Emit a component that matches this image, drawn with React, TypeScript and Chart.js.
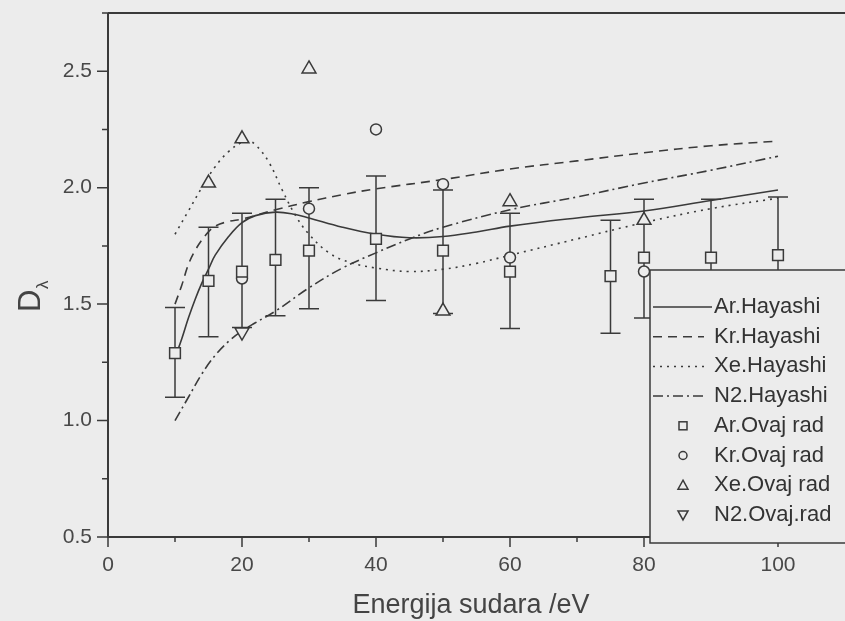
import React, { useEffect, useRef } from 'react';
import { Chart, registerables } from 'chart.js';

Chart.register(...registerables);

// ---------- data ----------
const arHayashiX = [10, 11, 12, 13, 14, 15, 16, 18, 20, 22, 25, 28, 30, 35, 40, 45, 50, 55, 60, 70, 80, 90, 100];
const arHayashiY = [1.27, 1.35, 1.44, 1.52, 1.59, 1.65, 1.71, 1.79, 1.85, 1.88, 1.895, 1.885, 1.87, 1.83, 1.8, 1.785, 1.79, 1.81, 1.835, 1.87, 1.9, 1.945, 1.99];

const krHayashiX = [10, 11, 12, 13, 14, 15, 16, 18, 20, 25, 30, 35, 40, 50, 60, 70, 80, 90, 100];
const krHayashiY = [1.5, 1.58, 1.67, 1.73, 1.775, 1.81, 1.835, 1.855, 1.865, 1.905, 1.94, 1.97, 1.995, 2.035, 2.08, 2.115, 2.15, 2.18, 2.2];

const xeHayashiX = [10, 12, 14, 16, 18, 20, 21, 22, 24, 26, 28, 30, 33, 36, 40, 45, 50, 55, 60, 70, 80, 90, 100];
const xeHayashiY = [1.8, 1.9, 2.0, 2.09, 2.155, 2.195, 2.2, 2.185, 2.11, 1.99, 1.88, 1.8, 1.72, 1.68, 1.655, 1.64, 1.65, 1.675, 1.71, 1.78, 1.85, 1.91, 1.955];

const n2HayashiX = [10, 12, 14, 16, 18, 20, 22, 25, 30, 35, 40, 45, 50, 60, 70, 80, 90, 100];
const n2HayashiY = [1.0, 1.1, 1.2, 1.28, 1.34, 1.385, 1.42, 1.47, 1.57, 1.655, 1.72, 1.78, 1.83, 1.905, 1.96, 2.02, 2.075, 2.135];

const arOvajX = [10, 15, 20, 25, 30, 40, 50, 60, 75, 80, 90, 100];
const arOvajY = [1.29, 1.6, 1.64, 1.69, 1.73, 1.78, 1.73, 1.64, 1.62, 1.7, 1.7, 1.71];
const arErrHigh = [1.485, 1.83, 1.89, 1.95, 2.0, 2.05, 1.99, 1.89, 1.86, 1.95, 1.95, 1.96];
const arErrLow = [1.1, 1.36, 1.4, 1.45, 1.48, 1.515, 1.46, 1.395, 1.375, 1.44, 1.45, 1.46];

const krOvajX = [20, 30, 40, 50, 60, 80];
const krOvajY = [1.61, 1.91, 2.25, 2.015, 1.7, 1.64];

const xeOvajX = [15, 20, 30, 50, 60, 80];
const xeOvajY = [2.02, 2.21, 2.51, 1.47, 1.94, 1.86];

const n2OvajX = [20];
const n2OvajY = [1.38];

const legendLabels = [
  'Ar.Hayashi',
  'Kr.Hayashi',
  'Xe.Hayashi',
  'N2.Hayashi',
  'Ar.Ovaj rad',
  'Kr.Ovaj rad',
  'Xe.Ovaj rad',
  'N2.Ovaj.rad',
];
const xTitle = 'Energija sudara /eV';
const yTitleMain = 'D';
const yTitleSub = 'λ';

// ---------- style ----------
const BG = '#ececec';
const INK = '#3a3a3a';
const TEXT = '#444444';
const FONT = '"Liberation Sans", Arial, sans-serif';
const DASH_KR = [9, 6];
const DASH_XE = [2, 5];
const DASH_N2 = [10, 4, 2, 4];

function pts(xs: number[], ys: number[]) {
  return xs.map((x, i) => ({ x, y: ys[i] }));
}

function zeroPad(s: any) {
  s.paddingTop = 0;
  s.paddingBottom = 0;
  s.paddingLeft = 0;
  s.paddingRight = 0;
}

export default function App() {
  const ref = useRef<HTMLCanvasElement>(null);

  useEffect(() => {
    const canvas = ref.current;
    if (!canvas) return;

    const decor = {
      id: 'decor',
      beforeDraw(chart: any) {
        const { ctx, width, height } = chart;
        ctx.save();
        ctx.fillStyle = BG;
        ctx.fillRect(0, 0, width, height);
        ctx.restore();
      },
      beforeDatasetsDraw(chart: any) {
        const { ctx } = chart;
        const xs = chart.scales.x;
        const ys = chart.scales.y;
        ctx.save();
        ctx.strokeStyle = INK;
        ctx.lineWidth = 1.5;
        arOvajX.forEach((xv, i) => {
          const px = xs.getPixelForValue(xv);
          const pt = ys.getPixelForValue(arErrHigh[i]);
          const pb = ys.getPixelForValue(arErrLow[i]);
          ctx.beginPath();
          ctx.moveTo(px, pt);
          ctx.lineTo(px, pb);
          ctx.moveTo(px - 10, pt);
          ctx.lineTo(px + 10, pt);
          ctx.moveTo(px - 10, pb);
          ctx.lineTo(px + 10, pb);
          ctx.stroke();
        });
        ctx.restore();
      },
      afterDraw(chart: any) {
        const { ctx, chartArea, width } = chart;
        const xs = chart.scales.x;
        const ys = chart.scales.y;
        const { left, top, bottom } = chartArea;
        ctx.save();
        // axes
        ctx.strokeStyle = INK;
        ctx.lineWidth = 2;
        ctx.beginPath();
        ctx.moveTo(left, top);
        ctx.lineTo(width, top);
        ctx.moveTo(left, top);
        ctx.lineTo(left, bottom);
        ctx.lineTo(width, bottom);
        ctx.stroke();
        // x ticks
        ctx.lineWidth = 1.5;
        ctx.beginPath();
        for (let v = 0; v <= 100; v += 10) {
          const px = xs.getPixelForValue(v);
          const len = v % 20 === 0 ? 10 : 5;
          ctx.moveTo(px, bottom);
          ctx.lineTo(px, bottom + len);
        }
        // y ticks
        for (let k = 0; k <= 9; k++) {
          const v = 0.5 + k * 0.25;
          const py = ys.getPixelForValue(v);
          const len = k % 2 === 0 ? 11 : 6;
          ctx.moveTo(left, py);
          ctx.lineTo(left - len, py);
        }
        ctx.stroke();

        // x title
        ctx.fillStyle = TEXT;
        ctx.font = `27px ${FONT}`;
        ctx.textAlign = 'center';
        ctx.textBaseline = 'alphabetic';
        ctx.fillText(xTitle, 471, 613);

        // y title D_lambda
        ctx.save();
        ctx.translate(40, 312);
        ctx.rotate(-Math.PI / 2);
        ctx.textAlign = 'left';
        ctx.font = `31px ${FONT}`;
        ctx.fillText(yTitleMain, 0, 0);
        ctx.font = `17px ${FONT}`;
        ctx.fillText(yTitleSub, 23, 8);
        ctx.restore();

        // legend box
        const lx = 650;
        const ly = 270;
        const lb = 543;
        ctx.fillStyle = BG;
        ctx.fillRect(lx, ly, width - lx + 5, lb - ly);
        ctx.strokeStyle = INK;
        ctx.lineWidth = 1.5;
        ctx.strokeRect(lx, ly, width - lx + 20, lb - ly);

        const rowY = (i: number) => 307 + i * 29.7;
        const dashes = [[], DASH_KR, DASH_XE, DASH_N2];
        for (let i = 0; i < 4; i++) {
          ctx.beginPath();
          ctx.setLineDash(dashes[i]);
          ctx.moveTo(lx + 3, rowY(i));
          ctx.lineTo(i === 0 ? 712 : 704, rowY(i));
          ctx.stroke();
        }
        ctx.setLineDash([]);
        const sx = 683;
        let y = rowY(4);
        ctx.strokeRect(sx - 4, y - 4, 8, 8);
        y = rowY(5);
        ctx.beginPath();
        ctx.arc(sx, y, 4, 0, Math.PI * 2);
        ctx.stroke();
        y = rowY(6);
        ctx.beginPath();
        ctx.moveTo(sx, y - 5);
        ctx.lineTo(sx + 5, y + 4);
        ctx.lineTo(sx - 5, y + 4);
        ctx.closePath();
        ctx.stroke();
        y = rowY(7);
        ctx.beginPath();
        ctx.moveTo(sx, y + 5);
        ctx.lineTo(sx + 5, y - 4);
        ctx.lineTo(sx - 5, y - 4);
        ctx.closePath();
        ctx.stroke();

        ctx.fillStyle = '#333333';
        ctx.font = `22px ${FONT}`;
        ctx.textAlign = 'left';
        ctx.textBaseline = 'middle';
        legendLabels.forEach((t, i) => ctx.fillText(t, 714, rowY(i)));
        ctx.restore();
      },
    };

    const markerCommon = {
      showLine: false,
      borderColor: INK,
      backgroundColor: BG,
      pointBorderWidth: 1.5,
      pointBorderColor: INK,
      pointBackgroundColor: BG,
    };
    const curveCommon = {
      showLine: true,
      borderColor: INK,
      borderWidth: 1.6,
      pointRadius: 0,
      tension: 0.4,
      fill: false,
    };

    const chart = new Chart(canvas, {
      type: 'scatter',
      data: {
        datasets: [
          { ...markerCommon, label: legendLabels[4], data: pts(arOvajX, arOvajY), pointStyle: 'rect', pointRadius: 7.6 },
          { ...markerCommon, label: legendLabels[5], data: pts(krOvajX, krOvajY), pointStyle: 'circle', pointRadius: 5.5 },
          { ...markerCommon, label: legendLabels[6], data: pts(xeOvajX, xeOvajY), pointStyle: 'triangle', pointRadius: 8 },
          { ...markerCommon, label: legendLabels[7], data: pts(n2OvajX, n2OvajY), pointStyle: 'triangle', rotation: 180, pointRotation: 180, pointRadius: 8 },
          { ...curveCommon, label: legendLabels[0], data: pts(arHayashiX, arHayashiY) },
          { ...curveCommon, label: legendLabels[1], data: pts(krHayashiX, krHayashiY), borderDash: DASH_KR },
          { ...curveCommon, label: legendLabels[2], data: pts(xeHayashiX, xeHayashiY), borderDash: DASH_XE },
          { ...curveCommon, label: legendLabels[3], data: pts(n2HayashiX, n2HayashiY), borderDash: DASH_N2 },
        ],
      } as any,
      options: {
        responsive: false,
        animation: false,
        layout: { autoPadding: false, padding: { top: 13, right: 0, left: 0, bottom: 0 } },
        plugins: { legend: { display: false }, tooltip: { enabled: false }, title: { display: false } },
        scales: {
          x: {
            type: 'linear',
            min: 0,
            max: 110,
            grid: { display: false, drawTicks: false },
            border: { display: false },
            ticks: {
              stepSize: 10,
              autoSkip: false,
              maxRotation: 0,
              padding: 16,
              color: '#484848',
              font: { family: FONT, size: 21 },
              callback: (v: any) => (Number(v) % 20 === 0 && Number(v) <= 100 ? String(v) : ''),
            },
            afterFit: (s: any) => {
              s.height = 84;
              zeroPad(s);
            },
          },
          y: {
            type: 'linear',
            min: 0.5,
            max: 2.75,
            grid: { display: false, drawTicks: false },
            border: { display: false },
            ticks: {
              stepSize: 0.25,
              autoSkip: false,
              padding: 16,
              color: '#484848',
              font: { family: FONT, size: 21 },
              callback: (v: any) => {
                const n = Number(v);
                const twice = n * 2;
                return Math.abs(twice - Math.round(twice)) < 1e-6 && n <= 2.5 ? n.toFixed(1) : '';
              },
            },
            afterFit: (s: any) => {
              s.width = 108;
              zeroPad(s);
            },
          },
        },
      } as any,
      plugins: [decor],
    });

    return () => chart.destroy();
  }, []);

  return (
    <div style={{ position: 'fixed', left: 0, top: 0, width: 845, height: 621, background: BG }}>
      <canvas ref={ref} width={845} height={621} style={{ display: 'block' }} />
    </div>
  );
}
